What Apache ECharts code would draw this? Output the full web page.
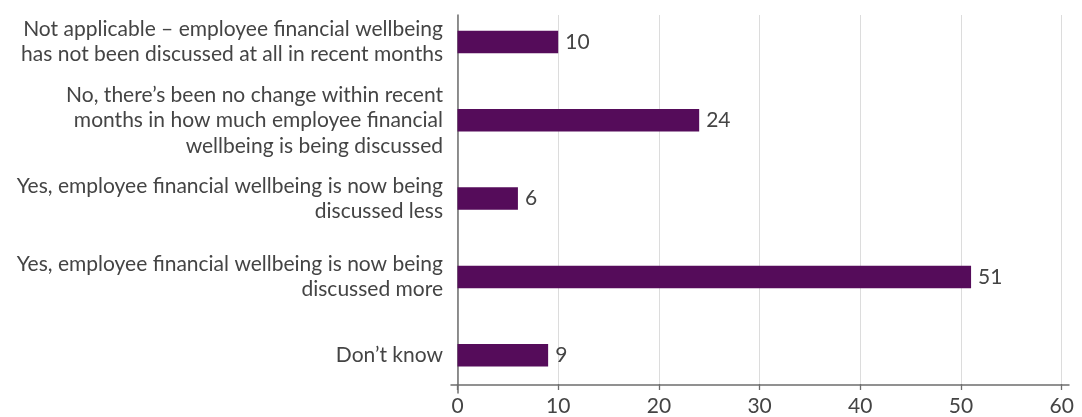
<!DOCTYPE html>
<html>
<head>
<meta charset="utf-8">
<script src="https://cdn.jsdelivr.net/npm/echarts@6/dist/echarts.min.js"></script>
<style>
  html, body { margin: 0; padding: 0; background: #fff; }
  #chart { width: 1082px; height: 417px; }
</style>
</head>
<body>
<div id="chart"></div>
<script>
// Survey answers, top to bottom
const categories = [
  'Not applicable \u2013 employee financial wellbeing\nhas not been discussed at all in recent months',
  'No, there\u2019s been no change within recent\nmonths in how much employee financial\nwellbeing is being discussed',
  'Yes, employee financial wellbeing is now being\ndiscussed less',
  'Yes, employee financial wellbeing is now being\ndiscussed more',
  'Don\u2019t know'
];
// Share of respondents (%)
const values = [10, 24, 6, 51, 9];
// Value axis ticks
const xTicks = [0, 10, 20, 30, 40, 50, 60];

const FONT = 'Lato';
const TEXT = '#444';
const AXIS = '#6e6e6e';
const BAR = '#550c5a';

const xMin = xTicks[0];
const xMax = xTicks[xTicks.length - 1];
const xStep = xTicks[1] - xTicks[0];

const chart = echarts.init(document.getElementById('chart'), null, { renderer: 'canvas' });

chart.setOption({
  animation: false,
  textStyle: { fontFamily: FONT },
  grid: [
    // bars + category labels
    { left: 457.5, right: 20.3, top: 2.8, bottom: 22.6, containLabel: false },
    // value axis: ticks, labels, gridlines
    { left: 457.5, right: 20.3, top: 15, bottom: 32.7, containLabel: false },
    // horizontal baseline, drawn a little wider than the plot
    { left: 451, right: 13, top: 15, bottom: 32.7, containLabel: false },
    // vertical axis line
    { left: 457.5, right: 20.3, top: 15, bottom: 24, containLabel: false }
  ],
  xAxis: [
    {
      gridIndex: 0, type: 'value', min: xMin, max: xMax, interval: xStep,
      show: false
    },
    {
      gridIndex: 1, type: 'value', min: xMin, max: xMax, interval: xStep,
      axisLine: { show: false },
      axisTick: { show: true, length: 6, lineStyle: { color: AXIS, width: 1.3 } },
      axisLabel: { color: TEXT, fontSize: 21, margin: 12, fontFamily: FONT },
      splitLine: { show: true, lineStyle: { color: '#dcdcdc', width: 1 } }
    },
    {
      gridIndex: 2, type: 'value', min: 0, max: 1,
      axisLine: { show: true, lineStyle: { color: AXIS, width: 1.5 } },
      axisTick: { show: false }, axisLabel: { show: false }, splitLine: { show: false }
    },
    {
      gridIndex: 3, type: 'value', min: 0, max: 1, show: false
    }
  ],
  yAxis: [
    {
      gridIndex: 0, type: 'category', data: categories, inverse: true,
      axisLine: { show: false }, axisTick: { show: false },
      axisLabel: {
        color: TEXT, fontSize: 21, margin: 14.5, lineHeight: 25.5,
        align: 'right', fontFamily: FONT
      }
    },
    { gridIndex: 1, type: 'value', min: 0, max: 1, show: false },
    { gridIndex: 2, type: 'value', min: 0, max: 1, show: false },
    {
      gridIndex: 3, type: 'value', min: 0, max: 1,
      axisLine: { show: true, lineStyle: { color: AXIS, width: 1.5 } },
      axisTick: { show: false }, axisLabel: { show: false }, splitLine: { show: false }
    }
  ],
  series: [
    {
      type: 'bar',
      xAxisIndex: 0, yAxisIndex: 0,
      data: values,
      barWidth: 22.5,
      itemStyle: { color: BAR },
      label: {
        show: true, position: 'right', distance: 7,
        color: TEXT, fontSize: 21, fontFamily: FONT
      }
    }
  ]
});
</script>
</body>
</html>
